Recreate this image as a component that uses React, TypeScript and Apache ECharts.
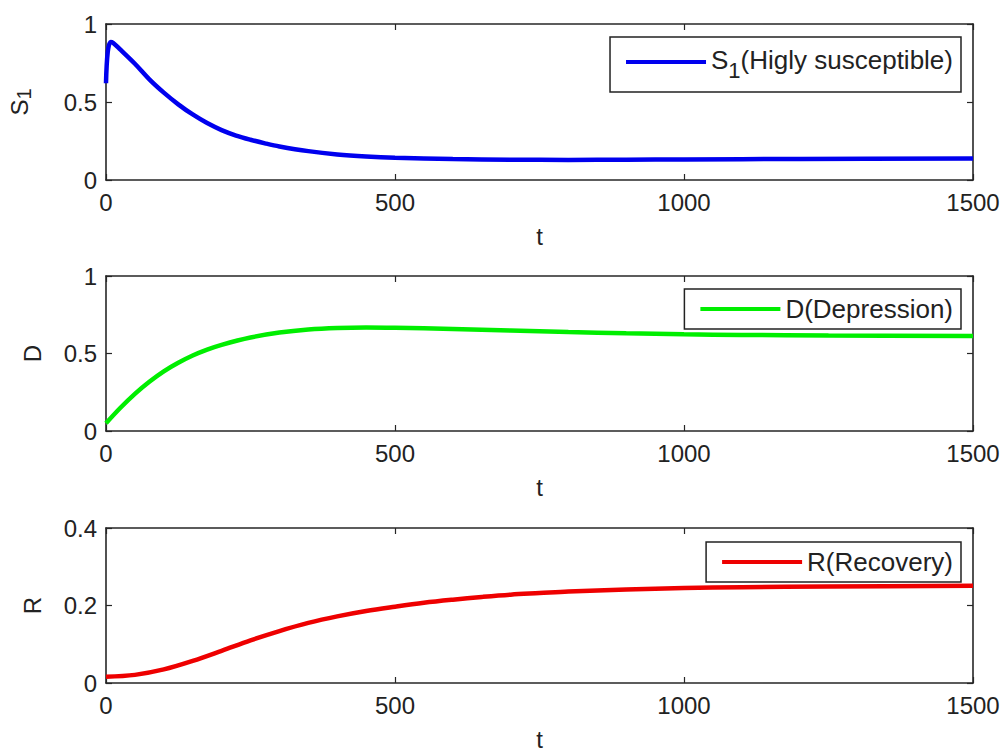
import React, { useEffect, useRef } from "react";
import * as echarts from "echarts";

// ---- data ----
const T_S1 = [0, 3, 8, 12, 25, 50, 75, 100, 125, 150, 175, 200, 225, 250, 275, 300, 350, 400, 450, 500, 600, 700, 800, 900, 1000, 1200, 1500];
const S1 = [0.62, 0.82, 0.885, 0.88, 0.835, 0.745, 0.645, 0.56, 0.485, 0.42, 0.365, 0.32, 0.285, 0.258, 0.235, 0.215, 0.185, 0.164, 0.151, 0.143, 0.135, 0.13, 0.129, 0.13, 0.132, 0.135, 0.138];

const T_D = [0, 25, 50, 75, 100, 125, 150, 175, 200, 250, 300, 350, 400, 450, 500, 600, 700, 800, 900, 1000, 1100, 1250, 1500];
const D = [0.05, 0.15, 0.24, 0.318, 0.385, 0.44, 0.487, 0.525, 0.556, 0.603, 0.635, 0.655, 0.665, 0.668, 0.666, 0.658, 0.648, 0.638, 0.63, 0.624, 0.62, 0.616, 0.613];

const T_R = [0, 50, 100, 150, 200, 250, 300, 350, 400, 450, 500, 550, 600, 650, 700, 750, 800, 900, 1000, 1100, 1250, 1500];
const R = [0.016, 0.021, 0.035, 0.057, 0.083, 0.11, 0.134, 0.155, 0.172, 0.186, 0.197, 0.207, 0.215, 0.222, 0.228, 0.232, 0.236, 0.241, 0.245, 0.247, 0.249, 0.251];

const X_TICKS = { min: 0, max: 1500, interval: 500 };
const Y_RANGES = [
  { min: 0, max: 1, interval: 0.5 },
  { min: 0, max: 1, interval: 0.5 },
  { min: 0, max: 0.4, interval: 0.2 },
];
const NAMES = ["S1(Higly susceptible)", "D(Depression)", "R(Recovery)"];
const COLORS = ["#0000ee", "#00ee00", "#ee0000"];

const FONT = "'Liberation Sans', Arial, Helvetica, sans-serif";
const AX = "#262626";

export default function App() {
  const ref = useRef<HTMLDivElement>(null);
  useEffect(() => {
    if (!ref.current) return;
    const chart = echarts.init(ref.current, undefined, { renderer: "svg" });
    const grids = [
      { top: 24, height: 156 },
      { top: 276, height: 155 },
      { top: 528, height: 155 },
    ];
    const xAxis: any[] = [];
    const yAxis: any[] = [];
    const yNames = ["{a|S}{b|1}", "D", "R"];
    const yGaps = [72, 62, 62];
    grids.forEach((g, i) => {
      xAxis.push({
        type: "value",
        gridIndex: i,
        position: "bottom",
        ...X_TICKS,
        name: "t",
        nameLocation: "middle",
        nameGap: 44,
        nameTextStyle: { fontSize: 24, color: "#222", fontFamily: FONT },
        axisLine: { show: true, lineStyle: { color: AX, width: 1.6 } },
        axisTick: { show: true, inside: true, length: 6, lineStyle: { color: AX, width: 1.2 } },
        axisLabel: { fontSize: 24, color: "#222", fontFamily: FONT, margin: 10, formatter: (v: number) => String(v) },
        splitLine: { show: false },
      });
      xAxis.push({
        type: "value",
        gridIndex: i,
        position: "top",
        ...X_TICKS,
        axisLine: { show: true, onZero: false, lineStyle: { color: AX, width: 1.6 } },
        axisTick: { show: true, inside: true, length: 6, lineStyle: { color: AX, width: 1.2 } },
        axisLabel: { show: false },
        splitLine: { show: false },
      });
      yAxis.push({
        type: "value",
        gridIndex: i,
        position: "left",
        ...Y_RANGES[i],
        name: yNames[i],
        nameLocation: "middle",
        nameGap: yGaps[i],
        nameRotate: 90,
        nameTextStyle: {
          fontSize: 24,
          color: "#222",
          fontFamily: FONT,
          rich: {
            a: { fontSize: 24, color: "#222", fontFamily: FONT },
            b: { fontSize: 20, color: "#222", fontFamily: FONT, padding: [10, 0, 0, 0] },
          },
        },
        axisLine: { show: true, onZero: false, lineStyle: { color: AX, width: 1.6 } },
        axisTick: { show: true, inside: true, length: 6, lineStyle: { color: AX, width: 1.2 } },
        axisLabel: { fontSize: 24, color: "#222", fontFamily: FONT, margin: 9, formatter: (v: number) => String(v) },
        splitLine: { show: false },
      });
      yAxis.push({
        type: "value",
        gridIndex: i,
        position: "right",
        ...Y_RANGES[i],
        axisLine: { show: true, onZero: false, lineStyle: { color: AX, width: 1.6 } },
        axisTick: { show: true, inside: true, length: 6, lineStyle: { color: AX, width: 1.2 } },
        axisLabel: { show: false },
        splitLine: { show: false },
      });
    });

    const sets = [
      [T_S1, S1],
      [T_D, D],
      [T_R, R],
    ];
    const series = sets.map(([ts, vs], i) => ({
      type: "line",
      name: NAMES[i],
      xAxisIndex: 2 * i,
      yAxisIndex: 2 * i,
      data: (ts as number[]).map((t, k) => [t, (vs as number[])[k]]),
      showSymbol: false,
      smooth: 0.35,
      lineStyle: { color: COLORS[i], width: 4.5 },
      itemStyle: { color: COLORS[i] },
    }));

    const legendTops = [37, 289, 542];
    const legendPads = [
      [10, 8, 11, 16],
      [7, 8, 7, 16],
      [7, 8, 7, 16],
    ];
    const legend = NAMES.map((n, i) => ({
      data: [n],
      right: 47,
      top: legendTops[i],
      orient: "horizontal",
      icon: "rect",
      itemWidth: 80,
      itemHeight: 4,
      borderColor: "#222",
      borderWidth: 1.5,
      borderRadius: 0,
      backgroundColor: "#fff",
      padding: legendPads[i],
      selectedMode: false,
      formatter: i === 0 ? () => "{a|S}{b|1}{a|(Higly susceptible)}" : undefined,
      textStyle: {
        fontSize: 26,
        color: "#222",
        fontFamily: FONT,
        rich: {
          a: { fontSize: 26, color: "#222", fontFamily: FONT, verticalAlign: "top", lineHeight: 30 },
          b: { fontSize: 22, color: "#222", fontFamily: FONT, verticalAlign: "top", lineHeight: 30, padding: [12, 0, 0, 0] },
        },
      },
    }));

    chart.setOption({
      animation: false,
      backgroundColor: "#fff",
      textStyle: { fontFamily: FONT },
      grid: grids.map((g) => ({
        left: 106,
        width: 867,
        top: g.top,
        height: g.height,
        containLabel: false,
        outerBoundsMode: "none",
      })),
      xAxis,
      yAxis,
      legend,
      series,
    });
    return () => chart.dispose();
  }, []);
  return (
    <div
      ref={ref}
      style={{ position: "absolute", left: 0, top: 0, width: 1008, height: 752, background: "#fff" }}
    />
  );
}
